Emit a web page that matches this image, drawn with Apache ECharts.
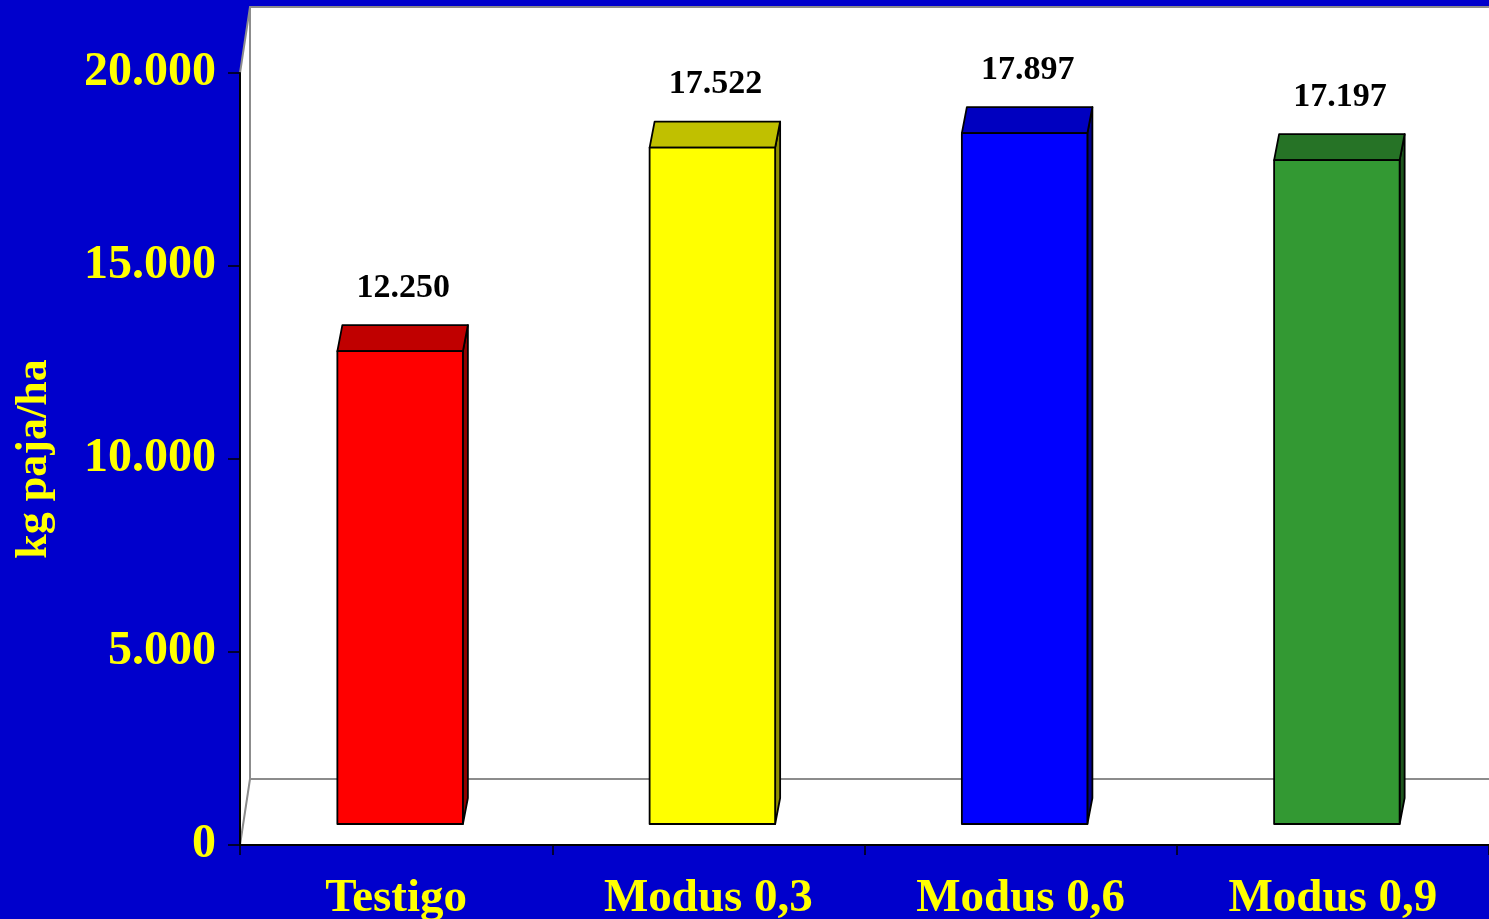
<!DOCTYPE html>
<html>
<head>
<meta charset="utf-8">
<script src="https://cdn.jsdelivr.net/npm/echarts@6/dist/echarts.min.js"></script>
<style>
html,body{margin:0;padding:0;background:#0000CC;}
#chart{width:1489px;height:919px;}
</style>
</head>
<body>
<div id="chart"></div>
<script>
const categories = ['Testigo', 'Modus 0,3', 'Modus 0,6', 'Modus 0,9'];
const values = [12250, 17522, 17897, 17197];
const yMin = 0, yMax = 20000, yStep = 5000;
const yAxisTitle = 'kg paja/ha';

const frontColors = ['#FF0000', '#FFFF00', '#0000FF', '#339933'];
const topColors = ['#C00000', '#C0C000', '#0000C0', '#267326'];
const sideColors = ['#900000', '#909000', '#000090', '#1D561D'];

const FONT = "'Liberation Serif','Times New Roman',serif";
const fmt = v => v === 0 ? '0' : (v / 1000).toFixed(3);

const chart = echarts.init(document.getElementById('chart'));

const WALL_DX = 10, WALL_DY = -66;
const FRONT_DX = 3, FRONT_DY = -21, BAR_DX = 5, BAR_DY = -26;

function renderWalls(params, api) {
  const c = params.coordSys;
  const x = c.x, y = c.y, w = c.width, h = c.height;
  const gray = { stroke: '#8C8C8C', lineWidth: 2, fill: null };
  return {
    type: 'group',
    children: [
      { type: 'polygon', shape: { points: [[x, y], [x + WALL_DX, y + WALL_DY], [x + WALL_DX, y + h + WALL_DY], [x, y + h]] }, style: { fill: '#fff' } },
      { type: 'rect', shape: { x: x + WALL_DX, y: y + WALL_DY, width: w - WALL_DX, height: h }, style: { fill: '#fff' } },
      { type: 'polygon', shape: { points: [[x, y + h], [x + WALL_DX, y + h + WALL_DY], [x + w, y + h + WALL_DY], [x + w, y + h]] }, style: { fill: '#fff' } },
      { type: 'polyline', shape: { points: [[x, y], [x + WALL_DX, y + WALL_DY], [x + w, y + WALL_DY]] }, style: gray },
      { type: 'polyline', shape: { points: [[x + WALL_DX, y + WALL_DY], [x + WALL_DX, y + h + WALL_DY], [x + w, y + h + WALL_DY]] }, style: gray },
      { type: 'line', shape: { x1: x, y1: y + h, x2: x + WALL_DX, y2: y + h + WALL_DY }, style: { stroke: '#8C8C8C', lineWidth: 2 } }
    ]
  };
}

function renderBar(params, api) {
  const i = params.dataIndex;
  const base = api.coord([api.value(0), 0]);
  const top = api.coord([api.value(0), api.value(1)]);
  const w = api.size([1, 0])[0] * 0.402;
  const x0 = base[0] - w / 2 + FRONT_DX + 1, x1 = x0 + w;
  const yb = base[1] + FRONT_DY, yt = top[1] + FRONT_DY;
  const stroke = { stroke: '#000', lineWidth: 1.8, lineJoin: 'round' };
  return {
    type: 'group',
    children: [
      { type: 'polygon', shape: { points: [[x1, yt], [x1 + BAR_DX, yt + BAR_DY], [x1 + BAR_DX, yb + BAR_DY], [x1, yb]] }, style: Object.assign({ fill: sideColors[i] }, stroke) },
      { type: 'polygon', shape: { points: [[x0, yt], [x1, yt], [x1 + BAR_DX, yt + BAR_DY], [x0 + BAR_DX, yt + BAR_DY]] }, style: Object.assign({ fill: topColors[i] }, stroke) },
      { type: 'rect', shape: { x: x0, y: yt, width: w, height: yb - yt }, style: Object.assign({ fill: frontColors[i] }, stroke) },
      { type: 'text', style: { x: x0 + w / 2 + 3, y: yt + BAR_DY - 20, text: fmt(api.value(1)), fill: '#000', font: 'bold 34px ' + FONT, textAlign: 'center', textVerticalAlign: 'bottom' } }
    ]
  };
}

chart.setOption({
  backgroundColor: '#0000CC',
  animation: false,
  grid: { left: 240, right: 0, top: 73, bottom: 74, containLabel: false, outerBoundsMode: 'none' },
  xAxis: {
    type: 'category',
    data: categories,
    boundaryGap: true,
    axisLine: { show: true, lineStyle: { color: '#000', width: 2 } },
    axisTick: { show: true, length: 10, lineStyle: { color: '#000', width: 1.5 } },
    axisLabel: { color: '#FFFF00', fontFamily: FONT, fontWeight: 'bold', fontSize: 47, margin: 30 },
    splitLine: { show: false }
  },
  yAxis: {
    type: 'value',
    min: yMin, max: yMax, interval: yStep,
    name: yAxisTitle,
    nameLocation: 'middle',
    nameGap: 183,
    nameTextStyle: { color: '#FFFF00', fontFamily: FONT, fontWeight: 'bold', fontSize: 44 },
    axisLine: { show: true, lineStyle: { color: '#000', width: 2 } },
    axisTick: { show: true, length: 12, lineStyle: { color: '#000', width: 1.5 } },
    axisLabel: { color: '#FFFF00', fontFamily: FONT, fontWeight: 'bold', fontSize: 48, margin: 24, padding: [8, 0, 0, 0], formatter: fmt },
    splitLine: { show: false }
  },
  series: [
    { type: 'custom', z: -1, silent: true, clip: false, renderItem: renderWalls, data: [[0, 0]] },
    { type: 'custom', z: 3, clip: false, renderItem: renderBar, data: values.map((v, i) => [i, v]) }
  ]
});
</script>
</body>
</html>
